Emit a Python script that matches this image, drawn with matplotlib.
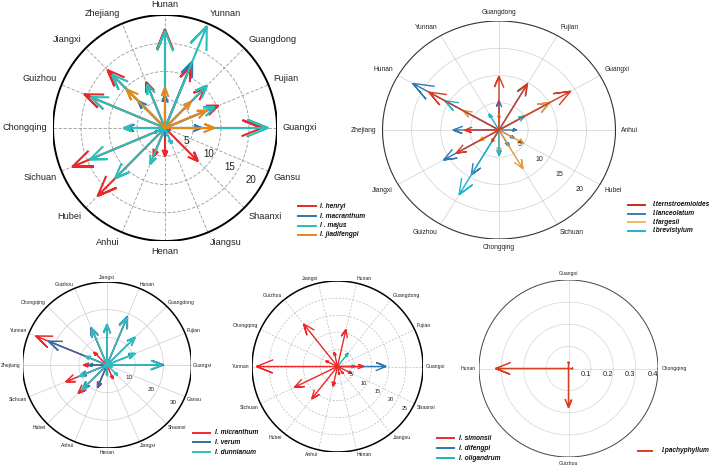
import matplotlib.pyplot as plt
import numpy as np
from matplotlib.lines import Line2D

W, H = 710, 470
plt.rcParams['font.family'] = ['Liberation Sans', 'DejaVu Sans']

# ---- panel 1 (top left) ----
p1_regions = ['Guangxi', 'Fujian', 'Guangdong', 'Yunnan', 'Hunan', 'Zhejiang', 'Jiangxi', 'Guizhou',
              'Chongqing', 'Sichuan', 'Hubei', 'Anhui', 'Henan', 'Jiangsu', 'Shaanxi', 'Gansu']
p1_species = ['I. henryi', 'I. macranthum', 'I . majus', 'I. jiadifengpi']
p1_henryi = [17.3, 10.3, 10.0, 11.7, 17.5, 8.8, 14.5, 15.6, 0, 17.9, 17.0, 5.4, 5.0, 0, 8.3, 0]
p1_macranthum = [6.5, 0, 0, 12.7, 5.8, 0, 6.7, 0, 7.0, 2.0, 0, 0, 1.5, 0, 0, 1.0]
p1_majus = [18.4, 9.6, 10.6, 19.5, 17.2, 8.3, 13.3, 14.3, 7.4, 14.5, 12.6, 6.9, 0, 3.0, 0, 0]
p1_jiadifengpi = [8.8, 8.0, 6.5, 0, 7.1, 0, 9.7, 0, 0, 0, 0, 0, 0, 0, 0, 0]
p1_ticks = [5, 10, 15, 20]

# ---- panel 2 (top right) ----
p2_regions = ['Anhui', 'Guangxi', 'Fujian', 'Guangdong', 'Yunnan', 'Hunan', 'Zhejiang', 'Jiangxi',
              'Guizhou', 'Chongqing', 'Sichuan', 'Hubei']
p2_species = ['I.ternstroemioides', 'I.lanceolatum', 'I.fargesii', 'I.brevistylum']
p2_ternstroemioides = [0, 14.2, 9.8, 9.85, 0, 13.9, 5.9, 8.5, 2.5, 0, 0, 0]
p2_lanceolatum = [3.0, 10.0, 9.6, 5.4, 0, 17.1, 7.9, 11.0, 9.5, 0, 3.4, 3.0]
p2_fargesii = [0, 10.1, 0, 2.9, 0, 7.1, 0, 3.9, 0, 4.1, 8.2, 4.9]
p2_brevistylum = [0, 5.1, 0, 0, 3.4, 10.7, 0, 0, 13.7, 4.7, 0, 0]
p2_ticks = [5, 10, 15, 20]

# ---- panel 3 (bottom left) ----
p3_regions = ['Guangxi', 'Fujian', 'Guangdong', 'Hunan', 'Jiangxi', 'Guizhou', 'Chongqing', 'Yunnan',
              'Zhejiang', 'Sichuan', 'Hubei', 'Anhui', 'Henan', 'Jiangxi', 'Shaanxi', 'Gansu']
p3_species = ['I. micranthum', 'I. verum', 'I. dunnianum']
p3_micranthum = [0, 0, 0, 18.5, 0, 14.0, 6.6, 27.4, 8.3, 15.8, 14.5, 8.9, 0, 5.4, 0, 0]
p3_verum = [20.0, 10.5, 14.0, 19.0, 14.5, 14.6, 0, 22.5, 6.5, 10.0, 12.0, 8.5, 3.0, 0, 0, 0]
p3_dunnianum = [19.5, 10.9, 14.2, 18.7, 14.8, 14.2, 0, 8.3, 0, 10.8, 12.7, 0, 4.0, 0, 5.3, 2.0]
p3_ticks = [10, 20, 30]

# ---- panel 4 (bottom middle) ----
p4_regions = ['Guangxi', 'Fujian', 'Guangdong', 'Hunan', 'Jiangxi', 'Guizhou', 'Chongqing', 'Yunnan',
              'Sichuan', 'Hubei', 'Anhui', 'Henan', 'Jiangsu', 'Shaanxi']
p4_species = ['I. simonsii', 'I. difengpi', 'I. oligandrum']
p4_simonsii = [7.6, 0, 0, 11.1, 4.3, 15.9, 3.8, 23.7, 14.0, 12.1, 5.9, 2.4, 2.7, 4.6]
p4_difengpi = [14.2, 0, 0, 0, 0, 0, 0, 0, 0, 0, 0, 0, 0, 0]
p4_oligandrum = [5.2, 0, 5.0, 0, 0, 0, 0, 0, 0, 0, 0, 0, 0, 0]
p4_ticks = [5, 10, 15, 20, 25]

# ---- panel 5 (bottom right) ----
p5_regions = ['Chongqing', 'Guangxi', 'Hunan', 'Guizhou']
p5_species = ['I.pachyphyllum']
p5_pachyphyllum = [0.02, 0.03, 0.326, 0.176]
p5_ticks = [0.1, 0.2, 0.3, 0.4]


def fig_box(cx, cy, rx, ry):
    return [(cx - rx) / W, 1 - (cy + ry) / H, 2 * rx / W, 2 * ry / H]


def compass(ax, regions, series, colors, ticks, grid, edge, lw, cat_fs, tick_fs, tick_ang, tick_k, gap=1.05):
    rmax = ticks[-1]
    n = len(regions)
    ang = np.arange(n) * 2 * np.pi / n
    ax.set_xlim(-rmax, rmax)
    ax.set_ylim(-rmax, rmax)
    ax.axis('off')
    t = np.linspace(0, 2 * np.pi, 400)
    for r in ticks[:-1]:
        ax.plot(r * np.cos(t), r * np.sin(t), **grid)
    for a in ang[:n // 2]:
        ax.plot([-rmax * np.cos(a), rmax * np.cos(a)], [-rmax * np.sin(a), rmax * np.sin(a)], **grid)
    ax.plot(rmax * np.cos(t), rmax * np.sin(t), **edge)

    for name, a in zip(regions, ang):
        c, s = np.cos(a), np.sin(a)
        ha = 'left' if c > 0.2 else ('right' if c < -0.2 else 'center')
        va = 'bottom' if s > 0.2 else ('top' if s < -0.2 else 'center')
        ax.text(gap * rmax * c, gap * rmax * s, name, ha=ha, va=va, fontsize=cat_fs, color='#222222')

    for r in ticks:
        if tick_ang is None:
            x, y = r - 0.06 * rmax, -0.07 * rmax
        else:
            th = np.deg2rad(tick_ang)
            x, y = tick_k * r * np.cos(th), tick_k * r * np.sin(th)
        ax.text(x, y, f'{r:g}', ha='center', va='center', fontsize=tick_fs, color='#222222')

    # compass style arrows: shaft plus open head
    for vals, col in zip(series, colors):
        for v, a in zip(vals, ang):
            if v <= 0:
                continue
            c, s = np.cos(a), np.sin(a)
            px = np.array([0, 1, 0.8, 1, 0.8]) * v
            py = np.array([0, 0, 0.08, 0, -0.08]) * v
            ax.plot(px * c - py * s, px * s + py * c, color=col, lw=lw, solid_joinstyle='miter')


def legend(fig, x0, x1, xt, ys, names, colors, fs=4.8):
    for y, name, col in zip(ys, names, colors):
        fig.add_artist(Line2D([x0 / W, x1 / W], [1 - y / H, 1 - y / H], color=col, lw=1.4,
                              transform=fig.transFigure))
        fig.text(xt / W, 1 - y / H, name, fontsize=fs, style='italic', weight='bold',
                 va='center', ha='left', color='#111111')


fig = plt.figure(figsize=(W / 100, H / 100), dpi=100)

# panel 1
c1 = ['#e8282b', '#2a77b4', '#2cbdb8', '#e08a1e']
ax1 = fig.add_axes(fig_box(165, 128, 112, 113))
compass(ax1, p1_regions, [p1_henryi, p1_macranthum, p1_majus, p1_jiadifengpi], c1, p1_ticks,
        dict(color='#999999', lw=0.6, ls=(0, (4, 2))), dict(color='black', lw=1.4),
        1.5, 6.6, 7, -31, 0.9, gap=1.05)
legend(fig, 298, 316, 320, [206, 216, 225.5, 235], p1_species, c1)

# panel 2
c2 = ['#d83a22', '#3478b0', '#e69a3c', '#22b4cc']
ax2 = fig.add_axes(fig_box(499, 130, 116.5, 109))
compass(ax2, p2_regions, [p2_lanceolatum, p2_fargesii, p2_brevistylum, p2_ternstroemioides],
        [c2[1], c2[2], c2[3], c2[0]], p2_ticks,
        dict(color='#cfcfcf', lw=0.5), dict(color='#333333', lw=0.8),
        1.0, 4.8, 5, -38, 0.88)
legend(fig, 628, 645, 653, [205, 213.5, 222.3, 231], p2_species,
       ['#cc2a1e', '#3c7fa8', '#f0b868', '#20b0d8'])

# panel 3
c3 = ['#f0282d', '#2e6ea6', '#2dbfc0']
ax3 = fig.add_axes(fig_box(107, 365, 84.5, 83))
compass(ax3, p3_regions, [p3_micranthum, p3_verum, p3_dunnianum], c3, p3_ticks,
        dict(color='#cccccc', lw=0.5), dict(color='black', lw=1.1),
        1.1, 3.6, 4.5, -30, 0.9, gap=1.02)
legend(fig, 193, 210, 215, [432.7, 442.3, 452], p3_species, c3)

# panel 4
c4 = ['#f0282a', '#2a78b0', '#25b5a5']
ax4 = fig.add_axes(fig_box(337.5, 366.5, 85.5, 85.5))
compass(ax4, p4_regions, [p4_oligandrum, p4_difengpi, p4_simonsii], [c4[2], c4[1], c4[0]], p4_ticks,
        dict(color='#bbbbbb', lw=0.5, ls=(0, (3, 2))), dict(color='black', lw=1.1),
        1.0, 3.7, 4, -32, 0.92, gap=1.03)
legend(fig, 437, 454, 459, [438.3, 448.3, 458.3], p4_species, c4)

# panel 5
c5 = ['#d9401f']
ax5 = fig.add_axes(fig_box(568.5, 368.5, 89.5, 88.5))
compass(ax5, p5_regions, [p5_pachyphyllum], c5, p5_ticks,
        dict(color='#d5d5d5', lw=0.5), dict(color='#444444', lw=0.7),
        1.1, 3.7, 5.5, None, None, gap=1.04)
legend(fig, 638, 652, 662, [451], p5_species, c5)

fig.savefig('out.png', dpi=100)
